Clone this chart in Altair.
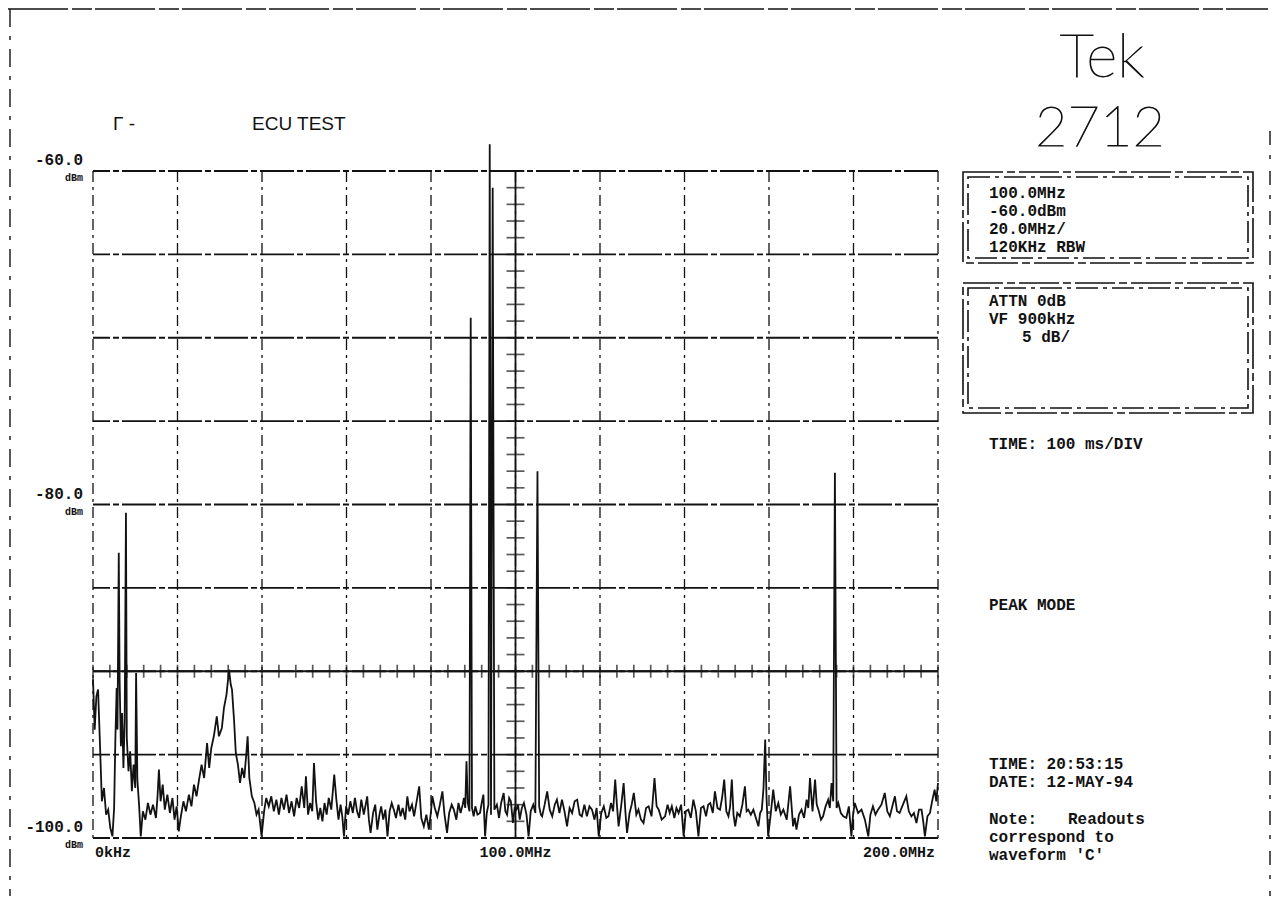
import altair as alt
import pandas as pd

# ---------------- data ----------------
# spectrum trace, (frequency MHz, level dBm)
trace_0_50 = [
    (0.0, -90.5), (0.4, -93.5), (0.8, -91.5), (1.2, -91.1), (1.6, -94.0), (2.1, -97.8),
    (2.6, -97.0), (3.1, -98.6), (3.6, -98.3), (4.1, -99.4), (4.6, -99.9), (5.0, -98.2),
    (5.3, -94.0), (5.6, -91.0), (5.8, -93.5), (6.1, -82.9), (6.3, -90.5), (6.6, -94.5),
    (6.9, -92.5), (7.2, -95.8), (7.5, -93.0), (7.8, -80.5), (8.0, -94.0), (8.4, -96.0),
    (8.8, -94.8), (9.2, -97.2), (9.6, -95.6), (10.0, -97.0), (10.2, -90.1), (10.5, -96.5),
    (10.9, -98.0), (11.3, -99.9), (11.8, -98.4), (12.4, -98.9), (13.0, -97.9), (13.6, -98.6),
    (14.2, -98.0), (14.9, -98.8), (15.3, -97.4), (15.6, -95.9), (16.0, -97.8), (16.5, -96.8),
    (17.0, -98.3), (17.6, -97.4), (18.2, -98.5), (18.8, -97.6), (19.3, -98.9), (19.8, -98.1),
    (20.3, -99.6), (20.8, -98.7), (21.4, -97.8), (22.0, -98.4), (22.7, -97.4), (23.3, -98.1),
    (23.9, -96.8), (24.5, -97.5), (25.1, -96.5), (25.7, -95.6), (26.3, -96.4), (27.0, -94.3),
    (27.5, -95.8), (28.0, -94.6), (28.6, -93.9), (29.3, -92.7), (29.8, -93.9), (30.5, -93.4),
    (31.0, -92.2), (31.6, -91.4), (32.2, -89.9), (32.6, -90.8), (32.9, -91.1), (33.4, -93.0),
    (33.8, -94.9), (34.3, -95.6), (34.8, -96.7), (35.3, -95.8), (35.8, -96.4), (36.3, -94.9),
    (36.6, -93.9), (37.0, -96.4), (37.6, -97.5), (38.2, -97.9), (38.7, -98.6), (39.2, -98.3),
    (39.9, -99.9), (40.5, -98.4), (41.0, -97.6), (41.6, -98.1), (42.2, -97.5), (42.8, -98.4),
    (43.4, -97.7), (44.0, -98.6), (44.6, -97.6), (45.2, -98.3), (45.8, -97.4), (46.4, -98.5),
    (47.0, -97.8), (47.6, -98.7), (48.2, -97.6), (48.8, -98.2), (49.4, -96.9),
]
trace_50_100 = [
    (50.0, -98.2), (50.4, -96.3), (50.9, -98.6), (51.4, -97.9), (51.9, -98.4), (52.3, -95.5),
    (52.8, -97.8), (53.3, -98.9), (53.8, -98.2), (54.3, -99.0), (54.8, -97.9), (55.3, -98.6),
    (55.8, -97.6), (56.4, -98.3), (57.1, -96.2), (57.6, -97.7), (58.1, -98.9), (58.6, -98.0),
    (59.0, -98.7), (59.4, -99.9), (59.9, -98.1), (60.4, -98.6), (60.9, -97.8), (61.5, -98.5),
    (62.0, -97.6), (62.5, -98.4), (63.0, -98.8), (63.5, -97.7), (64.1, -98.6), (64.9, -97.5),
    (65.3, -98.9), (65.7, -99.7), (66.3, -98.5), (66.8, -98.0), (67.3, -99.5), (67.8, -98.6),
    (68.2, -98.1), (68.7, -98.9), (69.2, -98.3), (69.7, -99.9), (70.2, -98.4), (70.7, -97.9),
    (71.2, -98.3), (71.7, -98.8), (72.3, -98.0), (72.8, -98.7), (73.3, -98.2), (73.9, -98.9),
    (74.4, -97.5), (74.9, -98.4), (75.5, -98.0), (76.0, -98.7), (76.6, -97.8), (77.2, -96.9),
    (77.7, -98.8), (78.3, -99.3), (78.9, -98.6), (79.5, -99.5), (80.0, -98.4), (80.3, -97.5),
    (80.9, -98.2), (81.5, -98.7), (82.1, -98.0), (82.7, -97.2), (83.2, -98.6), (83.8, -99.7),
    (84.3, -98.5), (84.9, -98.0), (85.4, -98.3), (86.0, -98.9), (86.5, -97.9), (87.0, -98.5),
    (87.5, -98.0), (87.8, -97.6), (88.1, -98.2), (88.4, -95.4), (88.7, -97.9), (89.1, -98.4),
    (89.4, -68.8), (89.7, -98.2), (90.1, -98.7), (90.5, -98.1), (91.0, -98.6), (91.6, -98.5),
    (92.0, -97.9), (92.4, -97.4), (92.8, -99.9), (93.2, -98.5), (93.6, -98.0), (93.9, -58.4),
    (94.2, -98.6), (94.6, -61.0), (95.0, -98.3), (95.6, -98.0), (96.1, -98.8), (96.6, -97.9),
    (97.2, -97.3), (97.6, -98.4), (98.0, -98.6), (98.5, -97.6), (98.9, -97.8), (99.4, -99.1),
    (99.8, -98.2),
]
trace_100_150 = [
    (100.2, -98.3), (100.6, -98.0), (101.0, -98.9), (101.5, -98.2), (102.0, -97.9), (102.6, -98.6),
    (103.1, -99.9), (103.6, -98.4), (104.2, -98.0), (104.7, -98.5), (105.2, -78.0), (105.6, -98.1),
    (106.0, -98.6), (106.3, -98.7), (106.9, -98.0), (107.5, -97.2), (108.1, -98.3), (108.7, -98.7),
    (109.3, -98.0), (109.8, -97.7), (110.4, -98.5), (111.0, -97.7), (111.6, -98.4), (112.2, -99.3),
    (112.8, -98.2), (113.4, -98.5), (114.0, -97.8), (114.6, -97.7), (115.2, -98.6), (115.7, -98.7),
    (116.3, -98.0), (116.9, -98.7), (117.5, -98.1), (118.1, -98.3), (118.7, -98.9), (119.2, -98.2),
    (119.7, -99.9), (120.3, -98.5), (120.9, -98.1), (121.5, -98.8), (122.0, -98.7), (122.6, -97.9),
    (123.1, -98.4), (123.6, -96.5), (124.0, -98.0), (124.4, -99.3), (125.0, -98.1), (125.6, -96.7),
    (126.0, -98.4), (126.4, -99.7), (127.0, -98.5), (127.5, -98.0), (128.0, -97.3), (128.6, -98.6),
    (129.1, -98.3), (129.7, -98.9), (130.3, -99.1), (130.9, -98.2), (131.5, -98.1), (132.2, -98.7),
    (132.9, -96.4), (133.4, -98.1), (133.9, -98.3), (134.6, -98.9), (135.4, -98.7), (136.0, -98.0),
    (136.5, -98.5), (137.0, -98.1), (137.6, -98.8), (138.1, -98.2), (138.6, -98.5), (139.2, -98.0),
    (139.8, -99.9), (140.3, -98.4), (140.9, -98.3), (141.5, -98.8), (142.1, -97.7), (142.7, -98.4),
    (143.3, -99.9), (143.9, -98.2), (144.5, -98.1), (145.1, -98.7), (145.6, -98.0), (146.1, -97.9),
    (146.7, -98.5), (147.2, -97.2), (147.8, -98.2), (148.4, -98.3), (148.9, -97.6), (149.4, -96.5),
    (149.9, -98.4),
]
trace_150_200 = [
    (150.4, -98.7), (150.8, -98.1), (151.2, -96.5), (151.6, -98.6), (152.0, -99.3), (152.5, -98.5),
    (153.1, -98.7), (153.7, -98.0), (154.3, -96.9), (154.7, -98.4), (155.1, -98.3), (155.7, -98.6),
    (156.3, -98.3), (156.9, -98.8), (157.5, -99.3), (157.9, -98.5), (158.3, -98.3), (158.7, -97.0),
    (159.1, -94.1), (159.4, -97.5), (159.8, -99.9), (160.4, -98.6), (161.0, -97.1), (161.6, -98.4),
    (162.2, -97.9), (162.8, -98.6), (163.4, -98.3), (164.2, -98.9), (165.0, -96.9), (165.7, -99.3),
    (166.1, -98.8), (166.5, -99.5), (167.1, -98.6), (167.7, -98.3), (168.3, -98.8), (168.9, -97.7),
    (169.3, -98.2), (169.7, -96.4), (170.3, -98.4), (170.9, -96.5), (171.3, -98.0), (171.7, -98.3),
    (172.3, -98.9), (172.8, -98.7), (173.4, -98.1), (174.0, -97.7), (174.4, -98.2), (174.8, -96.7),
    (175.2, -97.8), (175.6, -78.1), (176.0, -98.2), (176.4, -97.9), (177.0, -98.5), (177.6, -98.7),
    (178.3, -98.8), (178.9, -98.1), (179.5, -99.9), (179.9, -98.6), (180.3, -97.9), (181.1, -98.5),
    (181.9, -98.3), (182.7, -98.9), (183.5, -99.9), (184.0, -98.6), (184.6, -98.1), (185.2, -98.6),
    (185.8, -98.3), (186.6, -98.0), (187.4, -97.3), (188.0, -98.4), (188.6, -98.7), (189.2, -98.1),
    (189.8, -97.5), (190.3, -98.4), (190.9, -98.5), (191.7, -98.0), (192.5, -97.5), (193.1, -98.4),
    (193.7, -98.7), (194.3, -98.5), (194.9, -99.1), (195.5, -98.3), (196.1, -98.3), (196.5, -99.0),
    (196.9, -99.9), (197.5, -98.7), (198.1, -98.5), (198.6, -97.8), (199.2, -97.1), (199.6, -97.8),
    (200.0, -96.7),
]

# graticule
grid_freqs = [0, 20, 40, 60, 80, 100, 120, 140, 160, 180, 200]
grid_levels = [-100, -95, -90, -85, -80, -75, -70, -65, -60]
centre_freq = 100
centre_level = -90
minor_freqs = list(range(0, 201, 4))
minor_levels = list(range(-100, -59, 1))

# axis readouts
y_label_levels = [-60, -80, -100]
y_label_texts = ["-60.0", "-80.0", "-100.0"]
x_label_freqs = [0, 100, 200]
x_label_texts = ["0kHz", "100.0MHz", "200.0MHz"]

title_left = "\u0393 -"
title_main = "ECU TEST"
brand_lines = ["Tek", "2712"]
box1_lines = ["100.0MHz", "-60.0dBm", "20.0MHz/", "120KHz RBW"]
box2_lines = ["ATTN 0dB", "VF 900kHz"]
box2_scale = "5 dB/"
time_div = "TIME: 100 ms/DIV"
mode_text = "PEAK MODE"
stamp_lines = ["TIME: 20:53:15", "DATE: 12-MAY-94"]
note_head = "Note:"
note_tail = "Readouts"
note_lines = ["correspond to", "waveform 'C'"]

# ---------------- chart ----------------
INK = "#121212"
W, H = 845, 667
MONO = "Liberation Mono"
FS = 16

trace = pd.DataFrame(trace_0_50 + trace_50_100 + trace_100_150 + trace_150_200,
                     columns=["freq", "dbm"])
trace["order"] = range(len(trace))

xs = alt.Scale(domain=[0, 200], nice=False, zero=False)
ys = alt.Scale(domain=[-100, -60], nice=False, zero=False)

one = alt.InlineData(values=[{"k": 1}])

layers = []

# horizontal graticule
layers.append(
    alt.Chart(pd.DataFrame({"lvl": grid_levels})).mark_rule(
        color=INK, strokeWidth=1.9, strokeDash=[34, 3, 6, 3]
    ).encode(y=alt.Y("lvl:Q", scale=ys, axis=None))
)
# vertical graticule
layers.append(
    alt.Chart(pd.DataFrame({"f": grid_freqs})).mark_rule(
        color=INK, strokeWidth=1.3, strokeDash=[11, 5, 3, 5]
    ).encode(x=alt.X("f:Q", scale=xs, axis=None))
)
# centre lines, solid
layers.append(
    alt.Chart(pd.DataFrame({"f": [centre_freq]})).mark_rule(color=INK, strokeWidth=1.8)
    .encode(x=alt.X("f:Q", scale=xs, axis=None))
)
layers.append(
    alt.Chart(pd.DataFrame({"lvl": [centre_level]})).mark_rule(color=INK, strokeWidth=1.8)
    .encode(y=alt.Y("lvl:Q", scale=ys, axis=None))
)
# minor ticks on centre lines
layers.append(
    alt.Chart(pd.DataFrame({"f": minor_freqs, "lvl": [centre_level] * len(minor_freqs)}))
    .mark_tick(orient="vertical", size=13, thickness=1.7, color=INK)
    .encode(x=alt.X("f:Q", scale=xs, axis=None), y=alt.Y("lvl:Q", scale=ys, axis=None))
)
layers.append(
    alt.Chart(pd.DataFrame({"lvl": minor_levels, "f": [centre_freq] * len(minor_levels)}))
    .mark_tick(orient="horizontal", size=18, thickness=1.7, color=INK)
    .encode(x=alt.X("f:Q", scale=xs, axis=None), y=alt.Y("lvl:Q", scale=ys, axis=None))
)
# spectrum trace
layers.append(
    alt.Chart(trace).mark_line(color=INK, strokeWidth=1.8, interpolate="linear")
    .encode(x=alt.X("freq:Q", scale=xs, axis=None),
            y=alt.Y("dbm:Q", scale=ys, axis=None),
            order="order:Q")
)

# y labels
ylab = pd.DataFrame({"lvl": y_label_levels, "txt": y_label_texts})
layers.append(
    alt.Chart(ylab).mark_text(align="right", baseline="middle", dy=-11, font=MONO,
                              fontWeight="bold", fontSize=FS, color=INK)
    .encode(y=alt.Y("lvl:Q", scale=ys, axis=None), x=alt.value(-10), text="txt:N")
)
layers.append(
    alt.Chart(ylab).mark_text(align="right", baseline="middle", dy=7, font=MONO,
                              fontWeight="bold", fontSize=10, color=INK)
    .encode(y=alt.Y("lvl:Q", scale=ys, axis=None), x=alt.value(-10), text=alt.value("dBm"))
)
# x labels
xlab = pd.DataFrame({"f": x_label_freqs, "txt": x_label_texts, "i": [0, 1, 2]})
for i, (al, ddx) in enumerate([("left", 2), ("center", 0), ("right", -3)]):
    layers.append(
        alt.Chart(xlab).transform_filter(alt.datum.i == i)
        .mark_text(align=al, baseline="middle", dx=ddx, font=MONO, fontWeight="bold",
                   fontSize=FS - 1, color=INK)
        .encode(x=alt.X("f:Q", scale=xs, axis=None), y=alt.value(H + 14), text="txt:N")
    )

def label(txt, x, y, size=FS, weight="bold", font=MONO, align="left", base="middle",
          stroke_w=0):
    kw = dict(align=align, baseline=base, font=font, fontSize=size, fontWeight=weight,
              color=INK)
    if stroke_w:
        kw.update(stroke=INK, strokeWidth=stroke_w)
    return alt.Chart(one).mark_text(**kw).encode(
        x=alt.value(x), y=alt.value(y), text=alt.value(txt))

# title
layers.append(label(title_left, 20, -47, size=19, weight="normal", font="Liberation Sans"))
layers.append(label(title_main, 159, -47, size=19, weight="normal", font="Liberation Sans"))

# brand (thin plotter stroke lettering)
layers.append(label(brand_lines[0], 1009, -112, size=60, weight=200, font="Lato",
                    align="center", stroke_w=0.9))
layers.append(label(brand_lines[1], 1007, -42, size=56, weight=200, font="Lato",
                    align="center", stroke_w=0.9))

# readout boxes (double dashed frames)
def frame(x1, y1, x2, y2, dash):
    return alt.Chart(one).mark_rect(fillOpacity=0, stroke=INK, strokeWidth=1.6,
                                    strokeDash=dash).encode(
        x=alt.value(x1), x2=alt.value(x2), y=alt.value(y1), y2=alt.value(y2))

layers.append(frame(870, 1, 1160, 92, [40, 4, 8, 4]))
layers.append(frame(875, 6, 1155, 87, [22, 5, 4, 5]))
layers.append(frame(870, 112, 1160, 242, [40, 4, 8, 4]))
layers.append(frame(875, 117, 1155, 237, [22, 5, 4, 5]))

for i, t in enumerate(box1_lines):
    layers.append(label(t, 896, 22 + 18 * i))
for i, t in enumerate(box2_lines):
    layers.append(label(t, 896, 130 + 18 * i))
layers.append(label(box2_scale, 929, 166))
layers.append(label(time_div, 896, 273))
layers.append(label(mode_text, 896, 434))
for i, t in enumerate(stamp_lines):
    layers.append(label(t, 896, 593 + 18 * i))
layers.append(label(note_head, 896, 648))
layers.append(label(note_tail, 975, 648))
for i, t in enumerate(note_lines):
    layers.append(label(t, 896, 666 + 18 * i))

# page border of the plotter sheet
def rule(x1, y1, x2, y2, dash, w=1.4):
    return alt.Chart(one).mark_rule(color=INK, strokeWidth=w, strokeDash=dash).encode(
        x=alt.value(x1), x2=alt.value(x2), y=alt.value(y1), y2=alt.value(y2))

layers.append(rule(-83, -162, -83, 725, [18, 9, 4, 9]))
layers.append(rule(-85, -162, 1175, -162, [60, 4, 20, 3]))
layers.append(rule(1177, -40, 1177, 725, [14, 10, 4, 12]))

chart = alt.layer(*layers).properties(
    width=W, height=H,
    padding={"left": 85, "top": 163, "right": 333, "bottom": 58},
    autosize=alt.AutoSizeParams(type="none"),
    background="white",
).configure_view(stroke=None)

chart.save("out.html", embed_options={"renderer": "svg", "actions": False})
